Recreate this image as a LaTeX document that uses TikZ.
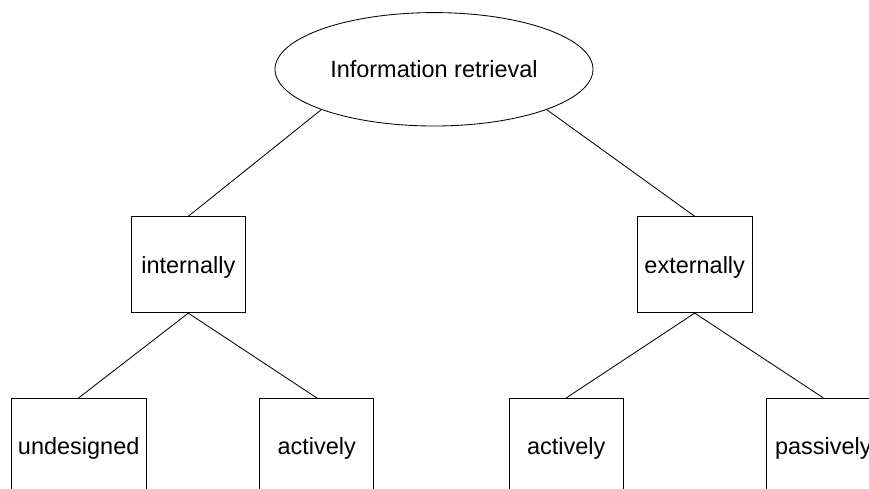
\documentclass[tikz,border=0pt]{standalone}
\usepackage{fontspec}
\setmainfont{Liberation Sans}
\usepackage{tikz}
\usetikzlibrary{shapes.geometric}

\begin{document}
\begin{tikzpicture}[
		font=\fontsize{16.7}{20}\selectfont,
		every node/.style={text height=11.96pt, text depth=0pt},
		leaf/.style={draw, line width=0.6pt, minimum width=2.84cm, minimum height=2.4cm, inner sep=5pt},
		link/.style={line width=0.6pt}]
		    \begin{scope}
					\useasboundingbox (0,0) rectangle (21.725,12.2);
					\clip (0,0) rectangle (21.725,12.2);

					\node[ellipse, draw, line width=0.6pt, minimum width=7.95cm, minimum height=2.835cm] (root) at (10.85,10.4675) {Information retrieval};

					\node[leaf] (intern) at (4.7075,5.5825) {internally};
					\node[leaf] (extern) at (17.3675,5.5825) {externally};

					\node[leaf] (undes) at (1.9675,1.0425) {undesigned};
					\node[leaf] (actint) at (7.9175,1.0425) {actively};
					\node[leaf] (actext) at (14.1575,1.0425) {actively};
					\node[leaf] (pass) at (20.5825,1.0425) {passively};

					\draw[link] (root.south west) -- (intern.north); % radice - interno
					\draw[link] (root.south east) -- (extern.north); % radice - esterno

					\draw[link] (intern.south) -- (undes.north);
					\draw[link] (intern.south) -- (actint.north);
					\draw[link] (extern.south) -- (actext.north);
					\draw[link] (extern.south) -- (pass.north);
		    \end{scope}
		  \end{tikzpicture}
\end{document}
